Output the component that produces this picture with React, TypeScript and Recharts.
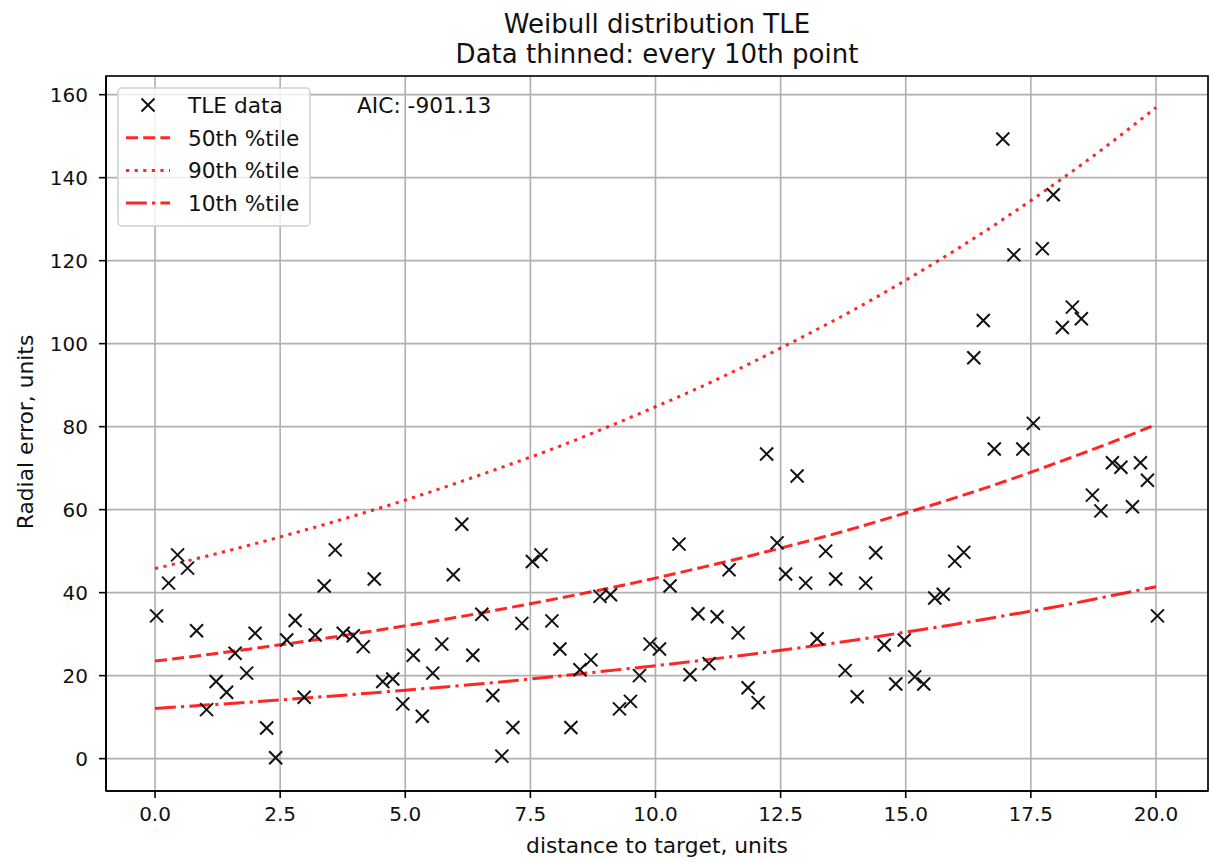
import React from 'react';
import { ComposedChart, Scatter, Line, XAxis, YAxis, CartesianGrid, ReferenceArea } from 'recharts';

// thinned TLE samples
const tleX = [
  0.03, 0.27, 0.45, 0.65, 0.83, 1.03, 1.22, 1.43, 1.6, 1.83, 2.0, 2.23, 2.41, 2.63, 2.8, 2.98, 3.2, 3.38, 3.6, 3.76,
  3.96, 4.16, 4.38, 4.55, 4.75, 4.95, 5.16, 5.34, 5.55, 5.73, 5.96, 6.13, 6.35, 6.53, 6.75, 6.93, 7.15, 7.33, 7.54, 7.71,
  7.93, 8.09, 8.31, 8.49, 8.71, 8.89, 9.1, 9.28, 9.5, 9.68, 9.89, 10.08, 10.29, 10.47, 10.69, 10.85, 11.07, 11.23, 11.47, 11.65,
  11.85, 12.05, 12.22, 12.43, 12.6, 12.83, 13.0, 13.23, 13.4, 13.6, 13.79, 14.03, 14.2, 14.4, 14.57, 14.8, 14.97, 15.18, 15.36, 15.58,
  15.75, 15.98, 16.16, 16.36, 16.55, 16.77, 16.94, 17.16, 17.34, 17.55, 17.73, 17.95, 18.13, 18.33, 18.51, 18.73, 18.9, 19.13, 19.3, 19.53,
  19.69, 19.83, 20.03,
];
const tleY = [
  34.4, 42.3, 49.1, 45.9, 30.8, 11.8, 18.6, 16.0, 25.4, 20.6, 30.2, 7.4, 0.2, 28.6, 33.3, 14.8, 29.8, 41.6, 50.3, 30.2,
  29.6, 27.0, 43.3, 18.6, 19.2, 13.2, 24.9, 10.2, 20.6, 27.6, 44.3, 56.5, 24.9, 34.8, 15.2, 0.6, 7.5, 32.6, 47.5, 49.1,
  33.2, 26.4, 7.5, 21.4, 23.8, 39.1, 39.5, 12.0, 13.8, 20.0, 27.6, 26.4, 41.6, 51.7, 20.2, 34.9, 22.9, 34.2, 45.5, 30.3,
  17.1, 13.5, 73.4, 52.0, 44.5, 68.1, 42.3, 28.9, 50.0, 43.3, 21.2, 14.9, 42.3, 49.6, 27.4, 18.0, 28.6, 19.7, 18.0, 38.7,
  39.6, 47.6, 49.7, 96.6, 105.6, 74.6, 149.3, 121.4, 74.6, 80.8, 122.9, 135.9, 103.9, 108.8, 106.0, 63.5, 59.7, 71.3, 70.2, 60.7,
  71.3, 67.1, 34.4,
];

// percentile curves
const curveX = [0, 1, 2, 3, 4, 5, 6, 7, 8, 9, 10, 11, 12, 13, 14, 15, 16, 17, 18, 19, 20];
const p50 = [23.5, 25.0, 26.6, 28.3, 30.1, 32.0, 34.0, 36.2, 38.5, 40.9, 43.5, 46.3, 49.2, 52.3, 55.6, 59.2, 62.9, 66.9, 71.2, 75.7, 80.5];
const p90 = [45.8, 48.7, 51.8, 55.1, 58.6, 62.3, 66.3, 70.5, 74.9, 79.7, 84.8, 90.1, 95.9, 102.0, 108.4, 115.3, 122.6, 130.4, 138.7, 147.5, 156.9];
const p10 = [12.1, 12.9, 13.7, 14.6, 15.5, 16.5, 17.5, 18.6, 19.8, 21.1, 22.4, 23.8, 25.3, 26.9, 28.6, 30.5, 32.4, 34.5, 36.6, 39.0, 41.4];

const xTicks = [0, 2.5, 5, 7.5, 10, 12.5, 15, 17.5, 20];
const yTicks = [0, 20, 40, 60, 80, 100, 120, 140, 160];

const X_MIN = -0.98;
const X_MAX = 21.04;
const Y_MIN = -7.8;
const Y_MAX = 164.5;

const tleData = tleX.map((x, i) => ({ x, y: tleY[i] }));
const toCurve = (ys: number[]) => curveX.map((x, i) => ({ x, y: ys[i] }));

const FONT = '"DejaVu Sans", sans-serif';
const RED = '#ff0000';
const DASHED = '12 5.2';
const DOTTED = '3.2 5.4';
const DASHDOT = '20.8 5.2 3.2 5.2';

const XMark = ({ cx, cy }: { cx?: number; cy?: number }) => {
  if (cx == null || cy == null) return null;
  const r = 6.5;
  return (
    <g stroke="#111" strokeWidth={2}>
      <line x1={cx - r} y1={cy - r} x2={cx + r} y2={cy + r} />
      <line x1={cx - r} y1={cy + r} x2={cx + r} y2={cy - r} />
    </g>
  );
};

const legendRows = [
  { label: 'TLE data', kind: 'marker' },
  { label: '50th %tile', kind: DASHED },
  { label: '90th %tile', kind: DOTTED },
  { label: '10th %tile', kind: DASHDOT },
];

const Overlay = () => (
  <svg width={1212} height={862} style={{ position: 'absolute', left: 0, top: 0, pointerEvents: 'none' }} fontFamily={FONT}>
    <text x={657} y={33} textAnchor="middle" fontSize={26} fill="#111">Weibull distribution TLE</text>
    <text x={657} y={63} textAnchor="middle" fontSize={26} fill="#111">Data thinned: every 10th point</text>
    <text x={657} y={853} textAnchor="middle" fontSize={21.8} fill="#111">distance to target, units</text>
    <text transform="translate(33,432) rotate(-90)" textAnchor="middle" fontSize={21.8} fill="#111">Radial error, units</text>

    <rect x={118} y={88} width={192} height={138} rx={4} fill="#fff" fillOpacity={0.8} stroke="#d0d0d0" strokeWidth={1.5} />
    {legendRows.map((row, i) => {
      const cy = 105 + i * 32.7;
      return (
        <g key={row.label}>
          {row.kind === 'marker' ? (
            <XMark cx={148} cy={cy} />
          ) : (
            <line x1={126} y1={cy} x2={170} y2={cy} stroke={RED} strokeOpacity={0.85} strokeWidth={3} strokeDasharray={row.kind} />
          )}
          <text x={188} y={cy + 7.8} fontSize={21.7} fill="#111">{row.label}</text>
        </g>
      );
    })}
    <text x={357} y={112.8} fontSize={21.7} fill="#111">AIC: -901.13</text>
  </svg>
);

const tickStyle = { fill: '#111', fontSize: 20, fontFamily: FONT };

export default function App() {
  return (
    <div style={{ position: 'absolute', left: 0, top: 0, width: 1212, height: 862, background: '#fff' }}>
      <ComposedChart width={1212} height={862} margin={{ top: 76, right: 4, bottom: 0, left: 0 }}>
        <CartesianGrid stroke="#b0b0b0" strokeWidth={1.6} />
        <XAxis
          dataKey="x"
          type="number"
          domain={[X_MIN, X_MAX]}
          ticks={xTicks}
          tickFormatter={(v: number) => v.toFixed(1)}
          allowDataOverflow
          height={71}
          tickSize={7}
          tickMargin={9}
          tick={tickStyle}
          axisLine={{ stroke: '#000', strokeWidth: 1.6 }}
          tickLine={{ stroke: '#000', strokeWidth: 1.6 }}
        />
        <YAxis
          dataKey="y"
          type="number"
          domain={[Y_MIN, Y_MAX]}
          ticks={yTicks}
          allowDataOverflow
          width={106}
          tickSize={7}
          tickMargin={11}
          tick={tickStyle}
          axisLine={{ stroke: '#000', strokeWidth: 1.6 }}
          tickLine={{ stroke: '#000', strokeWidth: 1.6 }}
        />
        <ReferenceArea x1={X_MIN} x2={X_MAX} y1={Y_MIN} y2={Y_MAX} fill="none" stroke="#000" strokeWidth={1.6} ifOverflow="visible" />
        <Scatter data={tleData} dataKey="y" shape={(p: any) => <XMark cx={p.cx} cy={p.cy} />} isAnimationActive={false} />
        <Line data={toCurve(p50)} dataKey="y" type="monotone" stroke={RED} strokeOpacity={0.85} strokeWidth={3} strokeDasharray={DASHED} dot={false} activeDot={false} isAnimationActive={false} />
        <Line data={toCurve(p90)} dataKey="y" type="monotone" stroke={RED} strokeOpacity={0.85} strokeWidth={3} strokeDasharray={DOTTED} dot={false} activeDot={false} isAnimationActive={false} />
        <Line data={toCurve(p10)} dataKey="y" type="monotone" stroke={RED} strokeOpacity={0.85} strokeWidth={3} strokeDasharray={DASHDOT} dot={false} activeDot={false} isAnimationActive={false} />
      </ComposedChart>
      <Overlay />
    </div>
  );
}
